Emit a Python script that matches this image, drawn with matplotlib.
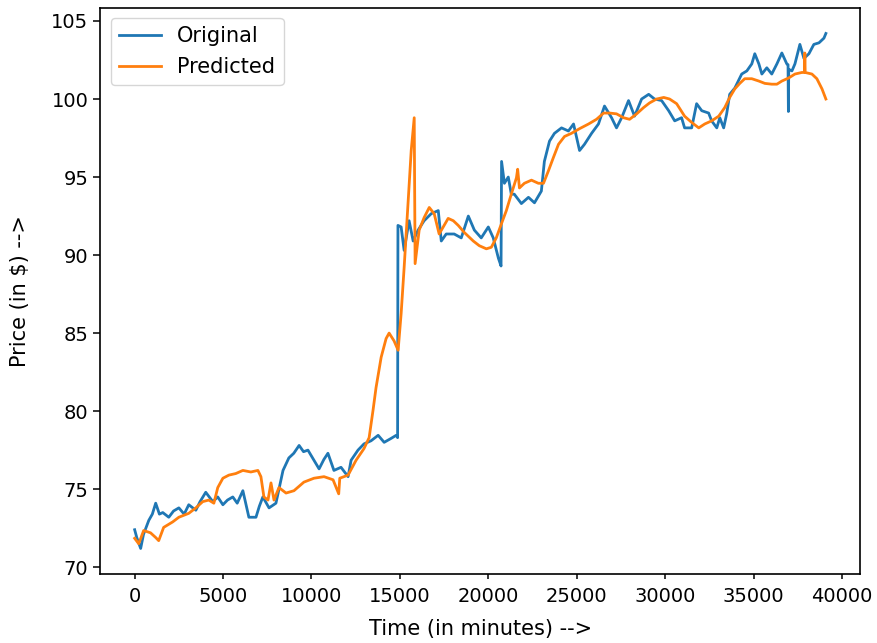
import matplotlib
matplotlib.use("Agg")
import matplotlib.pyplot as plt

# values (minutes, $)
orig_time = [0, 120, 340, 500, 800, 1000, 1190, 1400, 1590, 1930, 2200, 2500,
             2800, 3060, 3460, 3700, 4020, 4420, 4700, 4990, 5250, 5550, 5800,
             6120, 6300, 6460, 6860, 7050, 7250, 7600, 7990, 8200, 8390, 8720,
             9000, 9300, 9550, 9800, 10140, 10430, 10700, 10930, 11270, 11670,
             12070, 12240, 12630, 12970, 13370, 13770, 14110, 14500, 14790,
             14870, 14890, 15070, 15240, 15520, 15750, 16030, 16370, 16770,
             17170, 17340, 17620, 18070, 18470, 18870, 19210, 19600, 20000,
             20280, 20570, 20720, 20750, 20910, 21130, 21300, 21470, 21870,
             22270, 22610, 23000, 23170, 23460, 23740, 24140, 24530, 24820,
             25160, 25440, 25840, 26230, 26570, 26970, 27250, 27540, 27930,
             28270, 28670, 29070, 29400, 29800, 30200, 30540, 30930, 31100,
             31500, 31780, 32070, 32460, 32630, 32920, 33090, 33310, 33480,
             33650, 33940, 34330, 34620, 34900, 35070, 35300, 35470, 35750,
             36030, 36320, 36600, 36880, 36950, 36970, 36990, 37170, 37340,
             37620, 37850, 38130, 38410, 38700, 38980, 39090]
orig_price = [72.4, 71.9, 71.2, 72.1, 73.0, 73.4, 74.1, 73.4, 73.5, 73.2, 73.6,
              73.8, 73.4, 74.0, 73.65, 74.2, 74.8, 74.2, 74.5, 74.0, 74.3, 74.5,
              74.1, 74.9, 74.0, 73.2, 73.2, 73.9, 74.5, 73.8, 74.1, 75.2, 76.2,
              77.0, 77.3, 77.8, 77.4, 77.5, 76.85, 76.3, 76.9, 77.3, 76.2, 76.4,
              75.8, 76.85, 77.5, 77.9, 78.1, 78.45, 78.0, 78.25, 78.45, 78.3,
              91.9, 91.8, 90.3, 92.2, 90.9, 91.6, 92.2, 92.65, 92.85, 90.9,
              91.35, 91.35, 91.1, 92.5, 91.6, 91.1, 91.8, 91.1, 89.8, 89.3,
              96.0, 94.6, 95.0, 93.9, 93.9, 93.3, 93.7, 93.35, 94.1, 96.0, 97.3,
              97.8, 98.15, 97.95, 98.4, 96.7, 97.1, 97.8, 98.4, 99.55, 98.8,
              98.15, 98.8, 99.9, 98.9, 100.0, 100.3, 100.0, 99.9, 99.25, 98.6,
              98.8, 98.15, 98.15, 99.7, 99.25, 99.1, 98.6, 98.15, 98.8, 98.15,
              99.05, 100.3, 100.7, 101.6, 101.8, 102.25, 102.9, 102.25, 101.6,
              102.0, 101.6, 102.25, 102.95, 102.25, 102.2, 99.2, 101.9, 101.8,
              102.25, 103.5, 102.6, 102.9, 103.5, 103.6, 103.9, 104.2]

pred_time = [0, 230, 510, 900, 1190, 1360, 1640, 2150, 2500, 3060, 3460, 3850,
             4190, 4480, 4700, 4990, 5330, 5720, 6120, 6570, 6970, 7140, 7310,
             7540, 7710, 7880, 8160, 8560, 9010, 9570, 10140, 10710, 11220,
             11540, 11600, 12070, 12520, 12970, 13260, 13480, 13650, 13940,
             14220, 14390, 14670, 14900, 15070, 15240, 15470, 15640, 15810,
             15860, 16090, 16370, 16660, 16940, 17220, 17450, 17730, 18020,
             18300, 18640, 19150, 19490, 19890, 20170, 20450, 20740, 21020,
             21300, 21590, 21660, 21760, 22040, 22440, 22830, 23120, 23400,
             23680, 23970, 24310, 24700, 25160, 25670, 26120, 26520, 26860,
             27250, 27650, 27990, 28390, 28780, 29120, 29520, 29920, 30250,
             30650, 31100, 31500, 31900, 32240, 32630, 33030, 33370, 33650,
             33940, 34220, 34500, 34900, 35300, 35640, 36030, 36320, 36600,
             36990, 37340, 37730, 37880, 37900, 37920, 38300, 38580, 38870,
             39090]
pred_price = [71.85, 71.5, 72.35, 72.2, 71.9, 71.7, 72.55, 72.9, 73.2, 73.45,
              73.8, 74.2, 74.3, 74.1, 75.1, 75.7, 75.9, 76.0, 76.2, 76.1, 76.2,
              75.8, 74.5, 74.3, 75.4, 74.3, 75.1, 74.75, 74.9, 75.45, 75.7,
              75.8, 75.6, 74.7, 75.7, 75.9, 76.85, 77.6, 78.3, 80.05, 81.5,
              83.45, 84.65, 85.0, 84.5, 83.9, 86.25, 89.2, 93.5, 96.7, 98.8,
              89.45, 91.6, 92.4, 93.05, 92.65, 91.35, 91.8, 92.35, 92.2, 91.9,
              91.45, 90.9, 90.6, 90.4, 90.5, 91.1, 92.0, 92.85, 93.9, 94.95,
              95.5, 94.3, 94.6, 94.8, 94.6, 94.6, 95.4, 96.25, 97.1, 97.6, 97.8,
              98.1, 98.4, 98.7, 99.1, 99.1, 99.05, 98.8, 98.7, 99.05, 99.45,
              99.75, 100.0, 100.1, 100.0, 99.7, 98.9, 98.5, 98.15, 98.4, 98.6,
              98.9, 99.45, 100.1, 100.65, 101.0, 101.3, 101.3, 101.15, 101.0,
              100.95, 100.95, 101.15, 101.35, 101.6, 101.7, 101.7, 102.95,
              101.7, 101.6, 101.3, 100.65, 100.0]

plt.rcParams['font.size'] = 14
plt.rcParams['axes.linewidth'] = 1.2
plt.rcParams['xtick.major.size'] = 3.5
plt.rcParams['ytick.major.size'] = 5
plt.rcParams['xtick.major.width'] = 1.1
plt.rcParams['ytick.major.width'] = 1.1
plt.rcParams['xtick.major.pad'] = 6

fig = plt.figure(figsize=(8.78, 6.43), dpi=100)
ax = fig.add_axes([0.114, 0.107, 0.866, 0.881])

ax.plot(orig_time, orig_price, color='tab:blue', lw=2.0, label='Original')
ax.plot(pred_time, pred_price, color='tab:orange', lw=2.0, label='Predicted')

ax.set_xticks(range(0, 40001, 5000))
ax.set_yticks(range(70, 106, 5))
ax.set_xlabel('Time (in minutes) -->', fontsize=15, labelpad=9)
ax.set_ylabel('Price (in $) -->', fontsize=15, labelpad=15)
ax.legend(loc='upper left', fontsize=15)

plt.savefig('out.png', dpi=100)
plt.close()
